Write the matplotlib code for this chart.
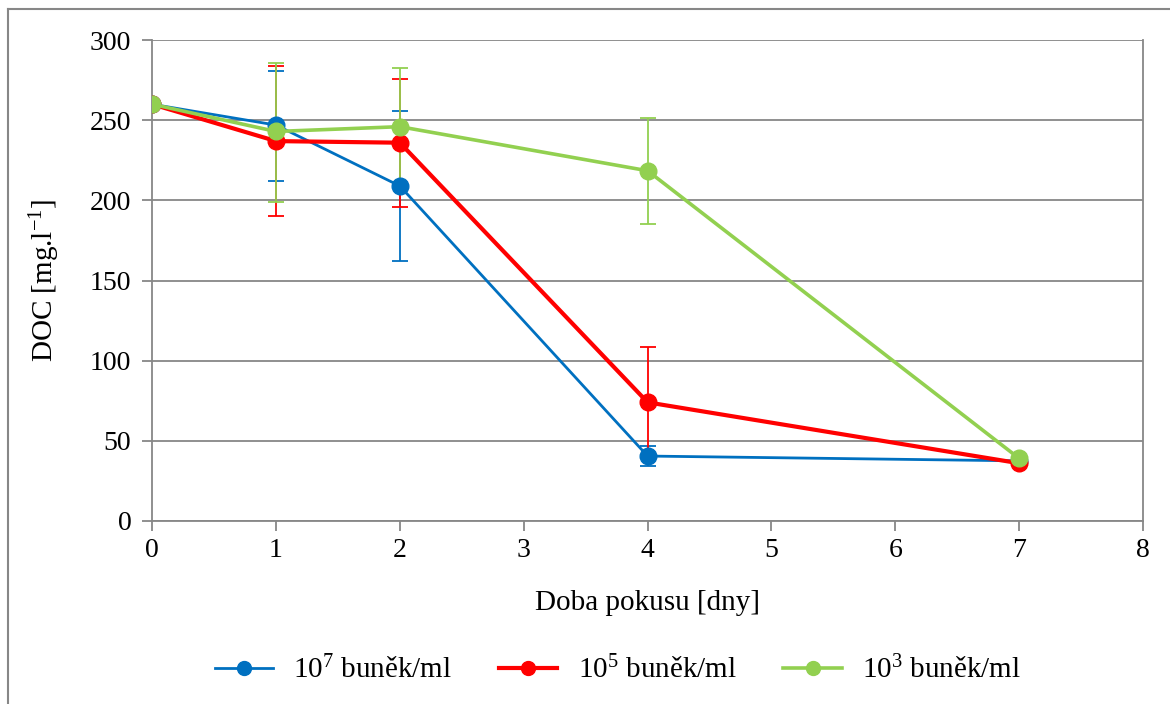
import matplotlib.pyplot as plt
from matplotlib.lines import Line2D

plt.rcParams['font.family'] = ['Liberation Serif', 'DejaVu Serif']
plt.rcParams['mathtext.fontset'] = 'custom'
plt.rcParams['mathtext.rm'] = 'Liberation Serif'
plt.rcParams['mathtext.it'] = 'Liberation Serif:italic'

days = [0, 1, 2, 4, 7]

doc_1e7 = [260, 247, 209, 40.5, 37.5]
err_1e7_up = [0, 34, 47, 6.5, 0]
err_1e7_lo = [0, 35, 47, 6.5, 0]

doc_1e5 = [260, 237, 236, 74, 36]
err_1e5_up = [0, 47, 40, 34.5, 0]
err_1e5_lo = [0, 46.5, 40, 34.5, 0]

doc_1e3 = [260, 243, 246, 218.5, 39]
err_1e3_up = [0, 42.5, 36.5, 33, 0]
err_1e3_lo = [0, 44, 36.5, 33, 0]

labels = [r'10$^{\mathregular{7}}$ buněk/ml', r'10$^{\mathregular{5}}$ buněk/ml',
          r'10$^{\mathregular{3}}$ buněk/ml']
colors = ['#0070c0', '#ff0000', '#92d050']
widths = [2.0, 3.0, 2.6]

fig = plt.figure(figsize=(11.7, 7.04), dpi=100)
ax = fig.add_axes([0.130, 0.260, 0.847, 0.683])

series = [
    (doc_1e7, err_1e7_lo, err_1e7_up),
    (doc_1e5, err_1e5_lo, err_1e5_up),
    (doc_1e3, err_1e3_lo, err_1e3_up),
]
handles = []
for (vals, lo, up), lab, col, lw in zip(series, labels, colors, widths):
    ax.errorbar(days, vals, yerr=[lo, up], color=col, lw=lw, marker='o',
                markersize=12, elinewidth=1.3, capsize=6, capthick=1.3,
                zorder=3)
    handles.append(Line2D([], [], color=col, lw=lw, marker='o',
                          markersize=10, label=lab))

ax.set_xlim(0, 8)
ax.set_ylim(0, 300)
ax.set_xticks(range(0, 9))
ax.set_yticks(range(0, 301, 50))
ax.grid(axis='y', color='#878787', lw=1.3)
ax.set_axisbelow(True)
for side in ['left', 'bottom', 'right']:
    ax.spines[side].set_color('#878787')
    ax.spines[side].set_linewidth(1.3)
ax.spines['top'].set_visible(False)
ax.tick_params(axis='both', colors='#878787', labelcolor='black',
               labelsize=20, length=7, width=1.3)
ax.tick_params(axis='x', pad=5)
ax.tick_params(axis='y', pad=8)

ax.set_xlabel('Doba pokusu [dny]', fontsize=21, labelpad=20)
ax.set_ylabel(r'DOC [mg.l$^{\mathregular{-1}}$]', fontsize=21, labelpad=20)

ax.legend(handles=handles, loc='upper center', bbox_to_anchor=(0.47, -0.225),
          ncol=3, frameon=False, fontsize=21, handlelength=2.0,
          columnspacing=1.6, handletextpad=0.7)

fig.add_artist(Line2D([8 / 1170, 8 / 1170], [0, 1 - 9 / 704],
                      transform=fig.transFigure, color='#878787', lw=1.5))
fig.add_artist(Line2D([8 / 1170, 1], [1 - 9 / 704, 1 - 9 / 704],
                      transform=fig.transFigure, color='#878787', lw=1.5))

plt.savefig('out.png', dpi=100)
